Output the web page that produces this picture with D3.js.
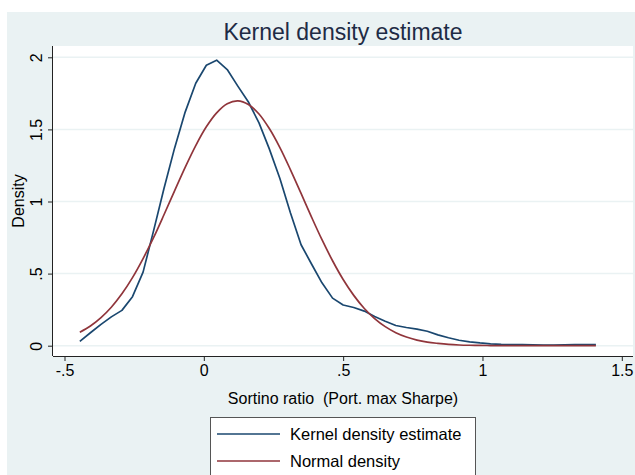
<!DOCTYPE html>
<html>
<head>
<meta charset="utf-8">
<script src="https://cdn.jsdelivr.net/npm/d3@7"></script>
<style>
  html, body { margin: 0; padding: 0; background: #ffffff; }
  svg { display: block; font-family: Arial, "Liberation Sans", sans-serif; }
</style>
</head>
<body>
<svg id="chart" width="635" height="475"></svg>
<script>
// Evaluation points (Sortino ratio)
const xPoints = [-0.445, -0.407, -0.369, -0.332, -0.294, -0.256, -0.218, -0.180, -0.143, -0.105,
                 -0.067, -0.029, 0.009, 0.046, 0.084, 0.122, 0.160, 0.198, 0.235, 0.273,
                 0.311, 0.349, 0.387, 0.424, 0.462, 0.500, 0.538, 0.576, 0.613, 0.651,
                 0.689, 0.727, 0.765, 0.802, 0.840, 0.878, 0.916, 0.954, 0.991, 1.029,
                 1.067, 1.105, 1.143, 1.180, 1.218, 1.256, 1.294, 1.332, 1.369, 1.407];

// Kernel density estimate
const kdeValues = [0.030, 0.090, 0.148, 0.200, 0.245, 0.340, 0.510, 0.800, 1.090, 1.370,
                   1.620, 1.820, 1.945, 1.980, 1.915, 1.800, 1.690, 1.545, 1.365, 1.160,
                   0.920, 0.700, 0.565, 0.436, 0.330, 0.282, 0.265, 0.240, 0.203, 0.170,
                   0.140, 0.126, 0.115, 0.100, 0.075, 0.055, 0.038, 0.027, 0.019, 0.013,
                   0.009, 0.008, 0.007, 0.006, 0.005, 0.005, 0.006, 0.008, 0.008, 0.007];

// Normal density
const normalValues = [0.094, 0.137, 0.195, 0.267, 0.360, 0.472, 0.604, 0.751, 0.908, 1.074,
                      1.237, 1.388, 1.518, 1.615, 1.678, 1.698, 1.673, 1.607, 1.506, 1.374,
                      1.220, 1.056, 0.890, 0.735, 0.589, 0.459, 0.349, 0.258, 0.188, 0.132,
                      0.090, 0.060, 0.039, 0.025, 0.016, 0.009, 0.005, 0.003, 0.002, 0.001,
                      0.001, 0.000, 0.000, 0.000, 0.000, 0.000, 0.000, 0.000, 0.000, 0.000];

const xTicks = [-0.5, 0, 0.5, 1, 1.5];
const xTickLabels = ["-.5", "0", ".5", "1", "1.5"];
const yTicks = [0, 0.5, 1, 1.5, 2];
const yTickLabels = ["0", ".5", "1", "1.5", "2"];

const seriesNames = ["Kernel density estimate", "Normal density"];
const seriesColors = ["#1a476f", "#90353b"];

const svg = d3.select("#chart");

// Graph region background
svg.append("rect").attr("x", 7).attr("y", 12).attr("width", 628).attr("height", 463)
  .attr("fill", "#eaf2f3");

// Plot region
const plot = { left: 53, right: 633, top: 46, bottom: 356 };
svg.append("rect")
  .attr("x", plot.left).attr("y", plot.top)
  .attr("width", plot.right - plot.left).attr("height", plot.bottom - plot.top)
  .attr("fill", "#ffffff");

const x = d3.scaleLinear().domain([-0.5, 1.5]).range([64.5, 621.8]);
const y = d3.scaleLinear().domain([0, 2]).range([345.7, 57.3]);

// Horizontal grid lines
svg.append("g").selectAll("line").data(yTicks).join("line")
  .attr("x1", plot.left).attr("x2", plot.right)
  .attr("y1", d => y(d)).attr("y2", d => y(d))
  .attr("stroke", "#eaf2f3").attr("stroke-width", 1.5);

// Axes
const xAxis = d3.axisBottom(x).tickValues(xTicks)
  .tickFormat((d, i) => xTickLabels[i]).tickSize(5).tickPadding(4).tickSizeOuter(0);
const gx = svg.append("g").attr("transform", `translate(0,${plot.bottom})`).call(xAxis);
gx.select(".domain").attr("d", `M${plot.left},0.5H${plot.right}`).attr("stroke", "#222");
gx.selectAll(".tick line").attr("stroke", "#222");
gx.selectAll(".tick text").attr("font-size", 16).attr("fill", "#000")
  .attr("font-family", "Arial, 'Liberation Sans', sans-serif");

const yAxis = d3.axisLeft(y).tickValues(yTicks)
  .tickFormat((d, i) => yTickLabels[i]).tickSize(5).tickSizeOuter(0);
const gy = svg.append("g").attr("transform", `translate(${plot.left},0)`).call(yAxis);
gy.select(".domain").attr("d", `M-0.5,${plot.top}V${plot.bottom}`).attr("stroke", "#222");
gy.selectAll(".tick line").attr("stroke", "#222");
gy.selectAll(".tick text")
  .attr("font-size", 16).attr("fill", "#000")
  .attr("font-family", "Arial, 'Liberation Sans', sans-serif")
  .attr("x", null).attr("dy", null)
  .attr("text-anchor", "middle")
  .attr("dominant-baseline", "central")
  .attr("transform", "translate(-17,0) rotate(-90)");

// Density curves: the estimate is joined point to point, the normal curve smoothly
const curves = [d3.curveLinear, d3.curveCatmullRom];
const seriesData = [kdeValues, normalValues];
seriesData.forEach((vals, k) => {
  const line = d3.line().x(d => x(d[0])).y(d => y(d[1])).curve(curves[k]);
  svg.append("path")
    .datum(xPoints.map((xv, i) => [xv, vals[i]]))
    .attr("d", line)
    .attr("fill", "none")
    .attr("stroke", seriesColors[k])
    .attr("stroke-width", 1.7)
    .attr("stroke-linejoin", "round");
});

// Title
svg.append("text").attr("x", 343).attr("y", 40).attr("text-anchor", "middle")
  .attr("font-size", 23).attr("fill", "#1e2b45").text("Kernel density estimate");

// Axis titles
svg.append("text").attr("x", 343).attr("y", 404).attr("text-anchor", "middle")
  .attr("font-size", 16).attr("fill", "#000").style("white-space", "pre")
  .text("Sortino ratio  (Port. max Sharpe)");
svg.append("text").attr("transform", "translate(24,201) rotate(-90)")
  .attr("text-anchor", "middle").attr("font-size", 16).attr("fill", "#000").text("Density");

// Legend
const legend = svg.append("g");
legend.append("rect").attr("x", 210.5).attr("y", 417.5).attr("width", 265).attr("height", 80)
  .attr("fill", "#ffffff").attr("stroke", "#555").attr("stroke-width", 1);
seriesNames.forEach((name, k) => {
  const cy = 434 + k * 27;
  legend.append("line").attr("x1", 217).attr("x2", 280).attr("y1", cy).attr("y2", cy)
    .attr("stroke", seriesColors[k]).attr("stroke-width", 1.7);
  legend.append("text").attr("x", 290).attr("y", cy).attr("dy", "0.35em")
    .attr("font-size", 16.5).attr("fill", "#000").text(name);
});
</script>
</body>
</html>
